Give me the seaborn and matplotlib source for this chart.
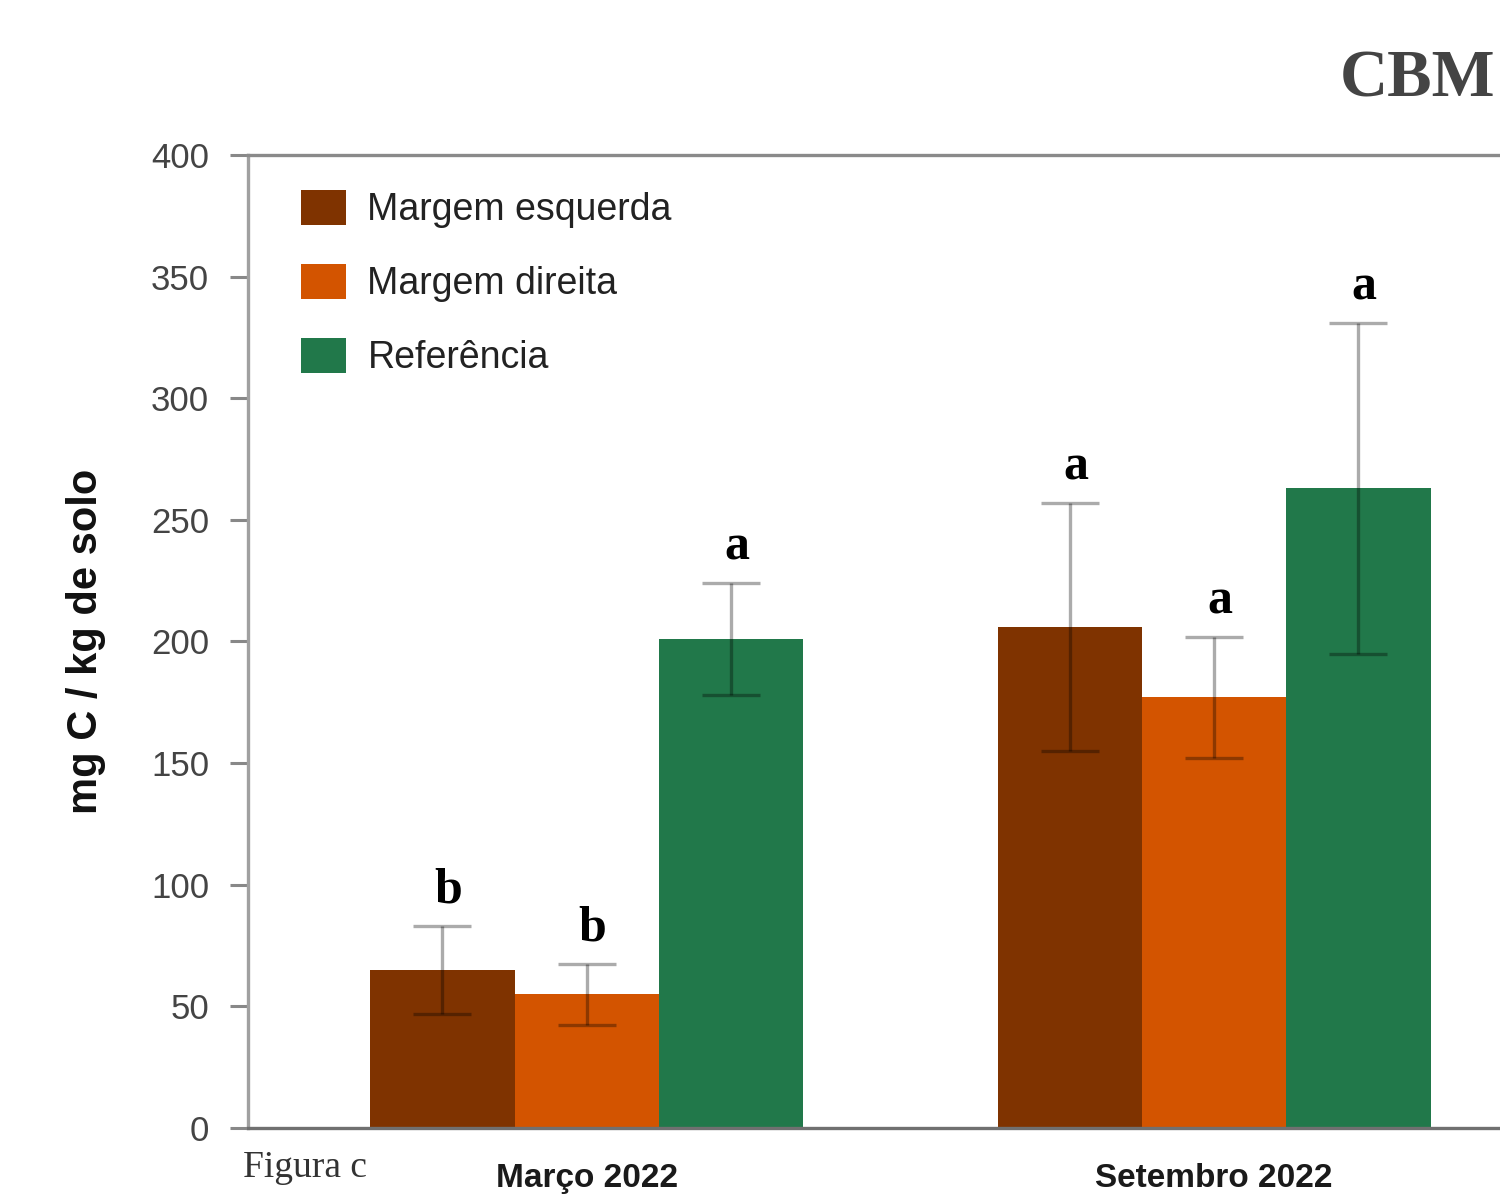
import matplotlib
matplotlib.use("Agg")
import matplotlib.pyplot as plt
import seaborn as sns
import pandas as pd

# --- data -------------------------------------------------------------
periods = ["Março 2022", "Setembro 2022"]
groups = ["Margem esquerda", "Margem direita", "Referência"]
means_marco = [65, 55, 201]
means_setembro = [206, 177, 263]
err_marco = [18, 12.5, 23]
err_setembro = [51, 25, 68]
letters_marco = ["b", "b", "a"]
letters_setembro = ["a", "a", "a"]
colors = ["#7f3300", "#d35400", "#21784a"]
y_ticks = [0, 50, 100, 150, 200, 250, 300, 350, 400]

df = pd.DataFrame({
    "period": [periods[0]] * 3 + [periods[1]] * 3,
    "group": groups * 2,
    "value": means_marco + means_setembro,
})
errors = {(periods[0], g): e for g, e in zip(groups, err_marco)}
errors.update({(periods[1], g): e for g, e in zip(groups, err_setembro)})
letters = {(periods[0], g): l for g, l in zip(groups, letters_marco)}
letters.update({(periods[1], g): l for g, l in zip(groups, letters_setembro)})

# --- style ------------------------------------------------------------
sns.set_theme(style="white")
plt.rcParams["font.family"] = ["Liberation Sans", "DejaVu Sans"]

fig = plt.figure(figsize=(15, 11.96), dpi=100)
ax = fig.add_axes([0.1653, 0.0569, 0.87, 0.8135])

sns.barplot(data=df, x="period", y="value", hue="group", order=periods,
            hue_order=groups, palette=colors, saturation=1, width=0.69,
            gap=0, errorbar=None, linewidth=0, ax=ax)

# error bars and significance letters on top of each bar
for container, g in zip(ax.containers, groups):
    for bar, p in zip(container, periods):
        xc = bar.get_x() + bar.get_width() / 2
        h = bar.get_height()
        e = errors[(p, g)]
        ax.errorbar(xc, h, yerr=e, fmt="none", ecolor="black", alpha=0.33,
                    elinewidth=2.4, capsize=21, capthick=2.4, zorder=5)
        ax.annotate(letters[(p, g)], xy=(xc, h + e), xytext=(4, 9),
                    textcoords="offset points", ha="center", va="bottom",
                    fontsize=36, fontweight="bold",
                    family=["Liberation Serif", "DejaVu Serif"], color="black")

ax.set_xlim(-0.54, 1.54)
ax.set_ylim(0, 400)
ax.set_yticks(y_ticks)
ax.set_yticklabels([str(t) for t in y_ticks])
ax.set_xlabel("")
ax.set_ylabel("mg C / kg de solo", fontsize=30, fontweight="bold",
              color="#111111", labelpad=32)

ax.tick_params(axis="y", which="major", left=True, length=13, width=2.2,
               color="#888888", labelsize=25, labelcolor="#444444", pad=15)
ax.tick_params(axis="x", length=0, pad=25, labelsize=24, labelcolor="#1a1a1a")
for lbl in ax.get_xticklabels():
    lbl.set_fontweight("bold")

for side in ["left", "top", "bottom"]:
    ax.spines[side].set_visible(True)
    ax.spines[side].set_linewidth(2.4)
ax.spines["left"].set_color("#a0a0a0")
ax.spines["top"].set_color("#8a8a8a")
ax.spines["bottom"].set_color("#707070")
ax.spines["right"].set_visible(False)
ax.spines["bottom"].set_zorder(6)

leg = ax.legend(loc="upper left", bbox_to_anchor=(0.041, 0.964),
                frameon=False, fontsize=27, handlelength=1.2,
                handleheight=1.06, handletextpad=0.56, labelspacing=0.95,
                borderpad=0, borderaxespad=0)
for t in leg.get_texts():
    t.set_color("#222222")

fig.text(0.162, 0.016, "Figura c", fontsize=27, color="#333333",
         family=["Liberation Serif", "DejaVu Serif"], ha="left", va="baseline")
fig.text(0.997, 0.933, "CBM", fontsize=48, fontweight="bold", color="#444444",
         family=["Liberation Serif", "DejaVu Serif"], ha="right", va="center")

fig.savefig("out.png", dpi=100)
